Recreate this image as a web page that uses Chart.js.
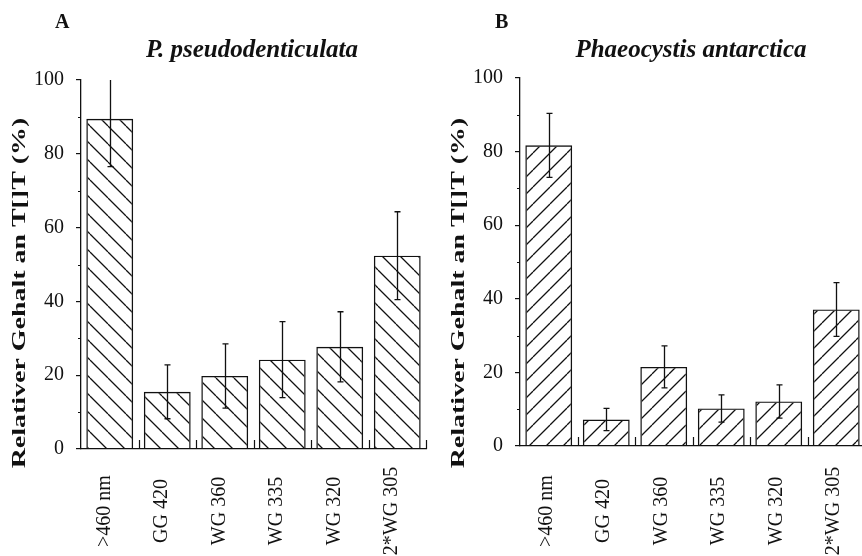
<!DOCTYPE html>
<html>
<head>
<meta charset="utf-8">
<script src="https://cdn.jsdelivr.net/npm/chart.js@4.4.0/dist/chart.umd.min.js"></script>
<style>
  html, body { margin: 0; padding: 0; background: #fff; overflow: hidden; width: 862px; height: 556px; }
  canvas { position: absolute; top: 0; }
  #chartA { left: 0; }
  #chartB { left: 431px; }
</style>
</head>
<body>
<canvas id="chartA" width="431" height="556"></canvas>
<canvas id="chartB" width="460" height="556"></canvas>
<script>
const categories = ['>460 nm', 'GG 420', 'WG 360', 'WG 335', 'WG 320', '2*WG 305'];
const valuesA = [89.5, 15.5, 19.8, 24.2, 27.7, 52.4];
const errorsA = [13, 7.3, 8.7, 10.3, 9.5, 11.9];
const valuesB = [81.7, 7.2, 21.5, 10.2, 12.1, 37.1];
const errorsB = [8.7, 3.0, 5.7, 3.7, 4.5, 7.3];
const yTicks = [0, 20, 40, 60, 80, 100];
const yTitle = 'Relativer Gehalt an T[]T (%)';

const ink = '#111';
const serif = '"Liberation Serif", "DejaVu Serif", serif';

// diagonal hatch fill, '\\' or '/'
function hatch(ctx, dir, size) {
    const c = document.createElement('canvas');
    c.width = size;
    c.height = size;
    const g = c.getContext('2d');
    g.strokeStyle = ink;
    g.lineWidth = 1.3;
    g.beginPath();
    for (const o of [-size, 0, size]) {
        if (dir === '\\') {
            g.moveTo(o, 0);
            g.lineTo(o + size, size);
        } else {
            g.moveTo(o, size);
            g.lineTo(o + size, 0);
        }
    }
    g.stroke();
    return ctx.createPattern(c, 'repeat');
}

const decor = {
    id: 'decor',
    afterDatasetsDraw(chart, args, o) {
        const ctx = chart.ctx, x = chart.scales.x, y = chart.scales.y, a = chart.chartArea;
        ctx.save();
        ctx.beginPath();
        ctx.rect(a.left, a.top, a.right - a.left, a.bottom - a.top);
        ctx.clip();
        ctx.strokeStyle = ink;
        ctx.lineWidth = 1.3;
        o.values.forEach((v, i) => {
            const px = Math.round(x.getPixelForValue(i)) + 0.5;
            const top = y.getPixelForValue(v + o.errors[i]);
            const bot = y.getPixelForValue(v - o.errors[i]);
            ctx.beginPath();
            ctx.moveTo(px, top);
            ctx.lineTo(px, bot);
            ctx.moveTo(px - 3, top);
            ctx.lineTo(px + 3, top);
            ctx.moveTo(px - 3, bot);
            ctx.lineTo(px + 3, bot);
            ctx.stroke();
        });
        ctx.restore();
    },
    afterDraw(chart, args, o) {
        const ctx = chart.ctx, x = chart.scales.x, y = chart.scales.y, a = chart.chartArea;
        ctx.save();
        ctx.strokeStyle = ink;
        ctx.fillStyle = ink;
        ctx.lineWidth = 1.2;

        // small marks between the categories
        ctx.beginPath();
        for (let i = 0; i < categories.length; i++) {
            const px = Math.round(x.getPixelForValue(i + 0.5)) + 0.5;
            ctx.moveTo(px, a.bottom);
            ctx.lineTo(px, a.bottom - 9);
        }
        // minor y ticks
        for (let k = 0; k < yTicks.length - 1; k++) {
            const py = Math.round(y.getPixelForValue((yTicks[k] + yTicks[k + 1]) / 2)) + 0.5;
            ctx.moveTo(a.left, py);
            ctx.lineTo(a.left - 3, py);
        }
        ctx.stroke();

        // rotated category labels
        ctx.font = '20px ' + serif;
        ctx.textAlign = 'center';
        ctx.textBaseline = 'alphabetic';
        categories.forEach((c, i) => {
            ctx.save();
            ctx.translate(x.getPixelForValue(i) + o.labelShift, 511);
            ctx.rotate(-Math.PI / 2);
            ctx.fillText(c, 0, 0);
            ctx.restore();
        });

        // y axis title
        ctx.save();
        ctx.translate(o.yTitleX, 293);
        ctx.rotate(-Math.PI / 2);
        ctx.scale(1.47, 1);
        ctx.font = 'bold 19px ' + serif;
        ctx.fillText(yTitle, 0, 0);
        ctx.restore();

        // panel letter and species
        ctx.textAlign = 'left';
        ctx.font = 'bold 20px ' + serif;
        ctx.fillText(o.letter, o.letterX, 28);
        ctx.textAlign = 'center';
        ctx.font = 'italic bold 25px ' + serif;
        ctx.fillText(o.species, o.speciesX, 57);
        ctx.restore();
    }
};

function makeChart(id, values, errors, dir, size, p) {
    const ctx = document.getElementById(id).getContext('2d');
    return new Chart(ctx, {
        type: 'bar',
        data: {
            labels: categories,
            datasets: [{
                data: values,
                backgroundColor: hatch(ctx, dir, size),
                borderColor: ink,
                borderWidth: 1.4,
                borderSkipped: 'start',
                barPercentage: 0.815,
                categoryPercentage: 1
            }]
        },
        options: {
            responsive: false,
            animation: false,
            devicePixelRatio: 1,
            layout: { padding: { left: 0, right: p.right, top: p.top, bottom: 0 } },
            plugins: {
                legend: { display: false },
                tooltip: { enabled: false },
                decor: {
                    values: values,
                    errors: errors,
                    labelShift: p.labelShift,
                    yTitleX: p.yTitleX,
                    letter: p.letter,
                    letterX: p.letterX,
                    species: p.species,
                    speciesX: p.speciesX
                }
            },
            scales: {
                x: {
                    grid: { display: false },
                    border: { display: true, color: ink, width: 1.3 },
                    ticks: { display: false },
                    afterFit: s => { s.height = p.xHeight; }
                },
                y: {
                    min: 0,
                    max: 100,
                    afterBuildTicks: s => { s.ticks = yTicks.map(v => ({ value: v })); },
                    afterFit: s => { s.width = p.yWidth; },
                    grid: { drawOnChartArea: false, color: ink, lineWidth: 1.2, tickLength: 5 },
                    border: { display: true, color: ink, width: 1.3 },
                    ticks: { padding: 12, color: ink, font: { family: serif, size: 20 } }
                }
            }
        },
        plugins: [decor]
    });
}

const chartA = makeChart('chartA', valuesA, errorsA, '\\', 18, {
    right: 5, top: 80, xHeight: 107, yWidth: 81,
    labelShift: 0, yTitleX: 25,
    letter: 'A', letterX: 55,
    species: 'P. pseudodenticulata', speciesX: 252
});

const chartB = makeChart('chartB', valuesB, errorsB, '/', 17, {
    right: 26, top: 78, xHeight: 110, yWidth: 89,
    labelShift: 3, yTitleX: 33,
    letter: 'B', letterX: 64,
    species: 'Phaeocystis antarctica', speciesX: 260
});
</script>
</body>
</html>
